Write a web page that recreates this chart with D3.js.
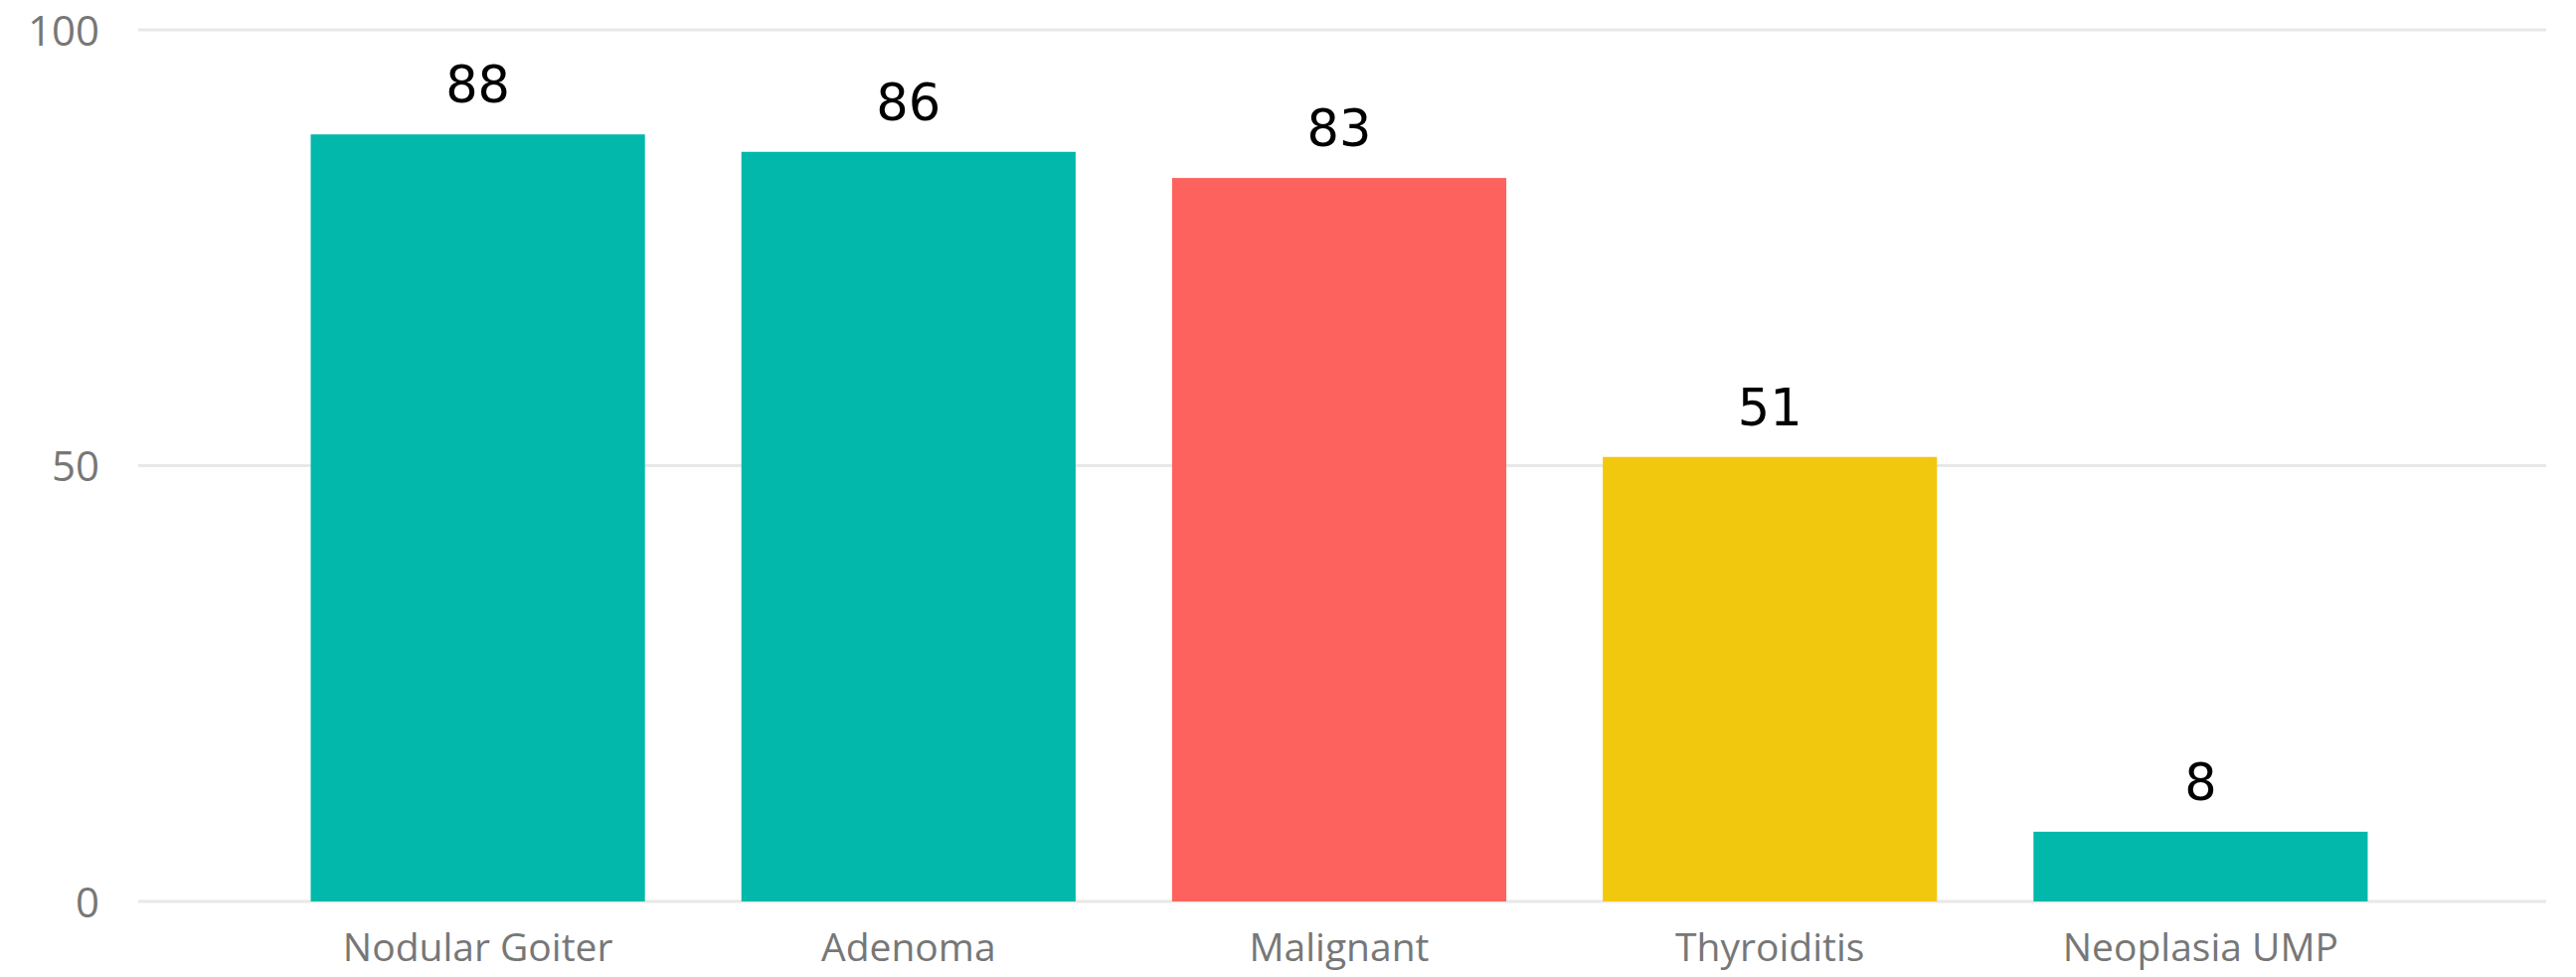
<!DOCTYPE html>
<html><head><meta charset="utf-8">
<script src="https://cdn.jsdelivr.net/npm/d3@7"></script>
<style>html,body{margin:0;padding:0;background:#fff;overflow:hidden}</style>
</head><body>
<svg id="chart" width="2591" height="983"></svg>
<script>
const categories = ["Nodular Goiter","Adenoma","Malignant","Thyroiditis","Neoplasia UMP"];
const values = [88,86,83,51,8];
const barColors = ["#01B8AA","#01B8AA","#FD625E","#F2C80F","#01B8AA"];
const yTicks = [0,50,100];

const svg = d3.select("#chart");
const y = d3.scaleLinear().domain([0,100]).range([907,30]);
const x = d3.scaleBand().domain(categories).range([264,2430]).paddingInner(0.224).paddingOuter(0.112);

// gridlines
svg.append("g").selectAll("line").data(yTicks).join("line")
  .attr("x1",139).attr("x2",2561)
  .attr("y1",d=>y(d)).attr("y2",d=>y(d))
  .attr("stroke","#E8E8E8").attr("stroke-width",3);

// y axis labels
const yAxis = d3.axisLeft(y).tickValues(yTicks).tickSize(0).tickPadding(0).tickFormat(d3.format("d"));
const ya = svg.append("g").attr("transform","translate(100,0)").call(yAxis);
ya.select(".domain").remove();
ya.selectAll("text").attr("fill","#777777").style("font-family","'Open Sans','Noto Sans',sans-serif").style("font-size","42px").attr("dy","0.36em");

// bars
svg.append("g").selectAll("rect").data(values).join("rect")
  .attr("x",(d,i)=>x(categories[i]))
  .attr("width",x.bandwidth())
  .attr("y",d=>y(d))
  .attr("height",d=>y(0)-y(d))
  .attr("fill",(d,i)=>barColors[i]);

// value labels
svg.append("g").selectAll("text").data(values).join("text")
  .attr("x",(d,i)=>x(categories[i])+x.bandwidth()/2)
  .attr("y",d=>y(d)-32)
  .attr("text-anchor","middle")
  .attr("fill","#000")
  .style("font-family","'DejaVu Sans',sans-serif")
  .style("font-size","51px")
  .text(d=>d);

// x axis labels
const xAxis = d3.axisBottom(x).tickSize(0).tickPadding(0);
const xa = svg.append("g").attr("transform","translate(0,967)").call(xAxis);
xa.select(".domain").remove();
xa.selectAll("text").attr("fill","#777777").attr("dy","0").style("font-family","'Open Sans','Noto Sans',sans-serif").style("font-size","39px");
</script>
</body></html>
